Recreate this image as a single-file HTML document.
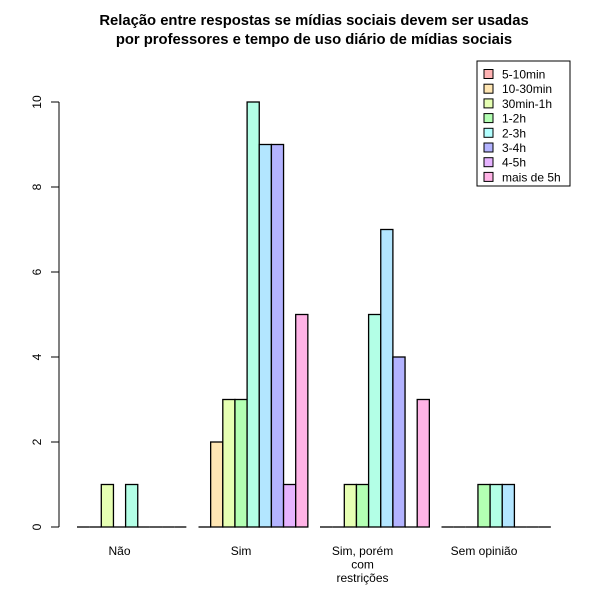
<!DOCTYPE html>
<html><head><meta charset="utf-8"><style>
body{margin:0;background:#fff}
svg{display:block;font-family:"Liberation Sans",Arial,sans-serif}
</style></head><body>
<svg id="chart" width="600" height="600" viewBox="0 0 600 600">
<rect width="600" height="600" fill="#fff"/>
<text x="314" y="25" text-anchor="middle" font-size="14.8" font-weight="bold">Relação entre respostas se mídias sociais devem ser usadas</text>
<text x="314" y="44" text-anchor="middle" font-size="14.8" font-weight="bold">por professores e tempo de uso diário de mídias sociais</text>
<g id="bars"></g>
<g id="yaxis"></g>
<g id="xlabels"></g>
<g id="legend"></g>
</svg>
<script>
const categories = ["Não", "Sim", "Sim, porém com restrições", "Sem opinião"];
const seriesNames = ["5-10min","10-30min","30min-1h","1-2h","2-3h","3-4h","4-5h","mais de 5h","extra"];
const valuesNao = [0,0,1,0,1,0,0,0,0];
const valuesSim = [0,2,3,3,10,9,9,1,5];
const valuesSimPorem = [0,0,1,1,5,7,4,0,3];
const valuesSemOpiniao = [0,0,0,1,1,1,0,0,0];
const yTicks = [0,2,4,6,8,10];
const legendLabels = ["5-10min","10-30min","30min-1h","1-2h","2-3h","3-4h","4-5h","mais de 5h"];

const colors = ["#FFB3B3","#FFE6B3","#E6FFB3","#B3FFB3","#B3FFE6","#B3E6FF","#B3B3FF","#E6B3FF","#FFB3E6"];
const legendColors = ["#FFB3B3","#FFE6B3","#E6FFB3","#B3FFB3","#B3FFFF","#B3B3FF","#E6B3FF","#FFB3E6"];
const groups = [valuesNao, valuesSim, valuesSimPorem, valuesSemOpiniao];
const NS = "http://www.w3.org/2000/svg";
const y0 = 527, pxPerUnit = 42.5, x0 = 77, bw = 12.15;
const yScale = v => y0 - v * pxPerUnit;
const xScale = (g, i) => x0 + (g * 10 + i) * bw;
function mk(tag, attrs, parent){const e=document.createElementNS(NS,tag);for(const k in attrs)e.setAttribute(k,attrs[k]);parent.appendChild(e);return e;}

const barsG = document.getElementById('bars');
groups.forEach((vals, g) => {
  vals.forEach((v, i) => {
    if (v === 0) {
      const l = mk('line', {x1: xScale(g,i), x2: xScale(g,i) + bw, y1: y0, y2: y0, stroke: '#000', 'stroke-width': 1.3}, barsG);
      
      
      return;
    }
    const r = mk('rect', {x: xScale(g,i), y: yScale(v), width: bw, height: y0 - yScale(v), fill: colors[i], stroke: '#000', 'stroke-width': 1.3}, barsG);
    
    
  });
});

const ax = document.getElementById('yaxis');
const axLine = mk('line', {x1: 59, x2: 59, y1: yScale(yTicks[0]), y2: yScale(yTicks[yTicks.length-1]), stroke: '#000', 'stroke-width': 1}, ax);


yTicks.forEach(t => {
  const y = yScale(t);
  const tk = mk('line', {x1: 51, x2: 59, y1: y, y2: y, stroke: '#000', 'stroke-width': 1}, ax);
  
  
  const lb = mk('text', {x: 41, y: y, 'font-size': 12, 'text-anchor': 'middle', transform: `rotate(-90 41 ${y})`}, ax);
  lb.textContent = t;
  
  
});

const xl = document.getElementById('xlabels');
const labelLines = [["Não"],["Sim"],["Sim, porém","com","restrições"],["Sem opinião"]];
labelLines.forEach((lines, g) => {
  const cx = xScale(g, 3.5);
  lines.forEach((ln, k) => {
    const t = mk('text', {x: cx, y: 555 + k * 13.5, 'font-size': 12, 'text-anchor': 'middle'}, xl);
    t.textContent = ln;
    
    
  });
});

const lg = document.getElementById('legend');
const box = mk('rect', {x: 477, y: 61, width: 93, height: 125, fill: '#fff', stroke: '#000', 'stroke-width': 1}, lg);


legendLabels.forEach((l, i) => {
  const y = 74 + i * 14.7;
  const sw = mk('rect', {x: 484, y: y - 4.5, width: 9, height: 9, fill: legendColors[i], stroke: '#000', 'stroke-width': 1}, lg);
  
  
  const t = mk('text', {x: 502, y: y + 4.5, 'font-size': 12}, lg);
  t.textContent = l;
  
  
});
</script>
</body></html>
